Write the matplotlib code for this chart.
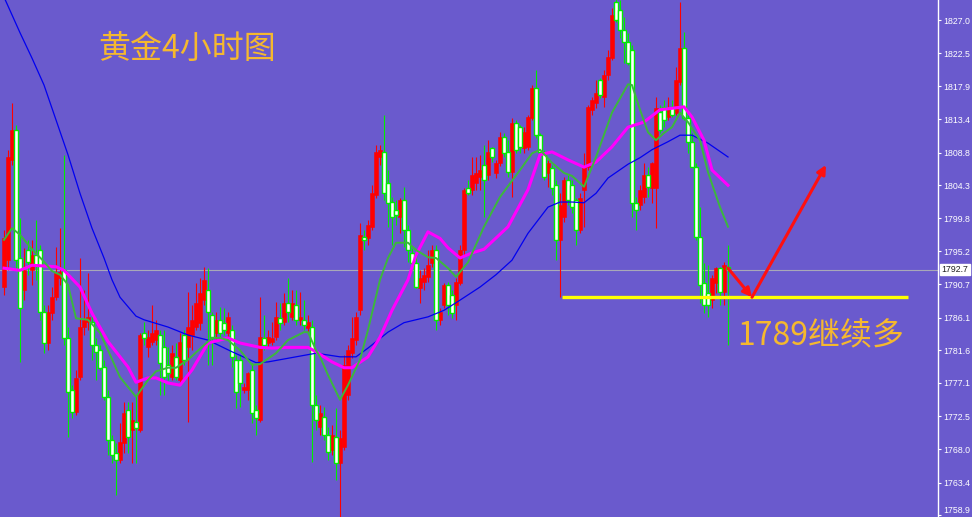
import numpy as np
import matplotlib
matplotlib.use('Agg')
import matplotlib.pyplot as plt

plt.rcParams['font.family'] = ['Noto Sans CJK SC', 'DejaVu Sans']

# 4小时K线 (开, 高, 低, 收), 从左到右
opens = [1790.3, 1794.0, 1807.8, 1811.9, 1794.3, 1789.9, 1795.4, 1792.6, 1794.7, 1795.4,
         1786.9, 1782.6, 1786.7, 1788.9, 1791.5, 1792.6, 1783.3, 1776.1, 1773.1, 1777.9,
         1784.8, 1785.5, 1785.5, 1782.3, 1781.6, 1779.3, 1775.2, 1769.3, 1767.5, 1766.5,
         1768.8, 1773.4, 1770.6, 1771.7, 1770.6, 1784.0, 1782.0, 1782.7, 1783.0, 1783.7,
         1782.0, 1779.6, 1777.9, 1780.7, 1777.5, 1783.7, 1782.0, 1783.7, 1784.8, 1785.4,
         1788.5, 1789.9, 1786.5, 1784.0, 1785.8, 1785.4, 1784.0, 1784.4, 1780.3, 1780.3,
         1776.1, 1776.1, 1778.9, 1773.4, 1772.0, 1783.3, 1782.6, 1782.7, 1783.4, 1786.0,
         1785.5, 1788.1, 1786.2, 1787.8, 1785.8, 1785.8, 1784.7, 1784.8, 1774.1, 1771.0,
         1772.4, 1769.9, 1767.9, 1769.7, 1766.1, 1768.3, 1775.4, 1781.2, 1783.0, 1787.1,
         1797.2, 1797.1, 1798.6, 1803.0, 1808.2, 1808.9, 1804.6, 1802.0, 1800.9, 1799.9,
         1802.3, 1798.2, 1795.0, 1793.6, 1790.2, 1791.0, 1791.7, 1793.6, 1795.4, 1785.8,
         1787.8, 1790.6, 1789.2, 1787.8, 1790.9, 1795.4, 1803.9, 1803.7, 1804.6, 1805.4,
         1807.1, 1805.7, 1809.4, 1806.0, 1807.4, 1811.0, 1808.9, 1806.1, 1812.9, 1812.3,
         1809.4, 1809.6, 1813.6, 1817.7, 1811.2, 1808.9, 1806.0, 1806.7, 1804.3, 1796.8,
         1799.9, 1805.0, 1804.3, 1802.3, 1798.2, 1803.7, 1806.8, 1814.7, 1815.6, 1818.8,
         1816.5, 1819.5, 1821.8, 1829.5, 1828.4, 1825.7, 1824.0, 1822.9, 1801.9, 1801.6,
         1802.7, 1805.7, 1803.9, 1803.9, 1814.4, 1815.1, 1813.7, 1815.1, 1814.3, 1818.5,
         1823.2, 1813.6, 1810.3, 1806.8, 1797.2, 1790.9, 1789.5, 1788.5, 1790.9, 1792.9,
         1789.6, 1793.1]
highs = [1798.2, 1809.2, 1815.6, 1812.6, 1799.8, 1795.7, 1796.8, 1796.8, 1799.5, 1796.1,
         1787.8, 1787.8, 1790.3, 1795.8, 1798.4, 1808.5, 1784.8, 1776.8, 1778.9, 1794.3,
         1789.9, 1792.2, 1786.5, 1783.3, 1782.3, 1780.3, 1776.1, 1769.9, 1768.8, 1771.6,
         1774.5, 1774.5, 1774.5, 1775.4, 1784.0, 1785.5, 1784.4, 1787.8, 1785.8, 1784.4,
         1784.4, 1782.0, 1782.3, 1782.6, 1784.0, 1784.4, 1789.6, 1787.8, 1790.9, 1791.5,
         1793.1, 1792.9, 1786.9, 1786.9, 1787.6, 1787.4, 1786.9, 1785.1, 1781.0, 1781.0,
         1777.1, 1778.6, 1779.9, 1774.1, 1788.9, 1786.5, 1784.4, 1785.5, 1788.2, 1788.1,
         1789.5, 1791.5, 1789.9, 1789.9, 1789.6, 1788.5, 1786.5, 1785.8, 1775.4, 1774.1,
         1773.8, 1771.0, 1771.3, 1773.7, 1770.6, 1781.0, 1782.3, 1786.2, 1786.9, 1799.1,
         1798.2, 1799.5, 1804.3, 1809.8, 1809.8, 1814.0, 1806.4, 1802.7, 1802.3, 1802.6,
         1804.1, 1798.8, 1795.7, 1795.4, 1792.6, 1792.9, 1795.4, 1796.1, 1796.1, 1787.4,
         1790.9, 1791.0, 1789.9, 1791.5, 1796.1, 1803.9, 1805.0, 1808.2, 1808.2, 1808.5,
         1809.8, 1810.5, 1809.6, 1807.8, 1811.6, 1811.5, 1810.5, 1813.6, 1813.3, 1812.6,
         1812.3, 1814.0, 1818.1, 1820.2, 1811.5, 1809.2, 1807.8, 1807.1, 1805.0, 1803.2,
         1805.4, 1805.7, 1805.0, 1802.6, 1803.2, 1808.7, 1815.4, 1816.5, 1818.8, 1819.1,
         1820.2, 1822.9, 1828.7, 1831.2, 1829.8, 1827.5, 1825.3, 1823.6, 1802.7, 1804.3,
         1807.4, 1806.8, 1807.5, 1816.5, 1815.4, 1816.0, 1816.5, 1816.0, 1820.6, 1829.5,
         1825.4, 1814.0, 1811.5, 1807.4, 1801.3, 1793.6, 1793.3, 1792.0, 1793.1, 1793.1,
         1793.7, 1796.1]
lows = [1789.2, 1792.6, 1807.1, 1792.6, 1780.0, 1788.5, 1792.0, 1790.6, 1791.3, 1785.8,
        1781.2, 1781.6, 1785.8, 1788.5, 1790.6, 1782.3, 1769.7, 1772.3, 1772.7, 1777.5,
        1783.7, 1784.4, 1780.3, 1777.5, 1778.9, 1774.8, 1767.2, 1766.1, 1761.7, 1766.1,
        1767.5, 1767.5, 1766.1, 1766.1, 1770.4, 1782.3, 1780.7, 1782.3, 1782.3, 1775.4,
        1775.4, 1777.5, 1777.5, 1777.5, 1777.1, 1779.6, 1771.7, 1781.6, 1784.4, 1784.4,
        1787.8, 1779.6, 1779.6, 1783.0, 1783.0, 1783.7, 1783.0, 1779.3, 1773.7, 1773.8,
        1775.7, 1774.8, 1771.6, 1769.9, 1771.7, 1781.6, 1781.9, 1782.3, 1783.0, 1784.4,
        1785.1, 1785.5, 1785.8, 1785.1, 1785.1, 1784.4, 1784.1, 1766.2, 1770.6, 1769.9,
        1769.3, 1766.5, 1767.2, 1763.8, 1758.0, 1767.9, 1774.8, 1780.5, 1782.3, 1786.5,
        1795.4, 1796.1, 1798.2, 1802.6, 1807.1, 1802.3, 1798.6, 1796.1, 1798.8, 1797.7,
        1795.8, 1793.7, 1792.6, 1790.2, 1788.1, 1789.9, 1791.0, 1793.1, 1784.4, 1785.1,
        1787.4, 1786.5, 1786.0, 1785.8, 1790.6, 1794.7, 1803.0, 1803.0, 1803.7, 1803.7,
        1799.9, 1805.0, 1807.5, 1805.3, 1807.0, 1808.2, 1805.4, 1802.7, 1808.7, 1808.7,
        1808.7, 1809.2, 1813.3, 1810.8, 1808.2, 1805.0, 1804.1, 1803.0, 1794.0, 1788.9,
        1799.3, 1801.6, 1800.5, 1796.1, 1797.7, 1798.6, 1806.4, 1814.0, 1814.9, 1816.3,
        1815.1, 1818.8, 1821.5, 1826.8, 1824.6, 1821.1, 1820.9, 1799.9, 1798.2, 1800.9,
        1801.9, 1802.7, 1801.9, 1798.4, 1811.5, 1812.3, 1813.3, 1813.7, 1814.0, 1818.1,
        1813.3, 1808.7, 1806.8, 1796.8, 1788.1, 1786.7, 1786.2, 1787.4, 1789.5, 1787.8,
        1787.8, 1782.3]
closes = [1797.1, 1808.2, 1811.9, 1794.0, 1787.4, 1792.6, 1793.7, 1794.7, 1793.3, 1786.9,
          1782.6, 1786.9, 1788.9, 1792.2, 1792.4, 1783.3, 1775.9, 1773.1, 1777.8, 1784.8,
          1785.8, 1786.2, 1782.3, 1781.4, 1779.2, 1775.2, 1769.3, 1767.2, 1766.5, 1769.0,
          1773.0, 1769.7, 1772.0, 1770.9, 1783.7, 1783.3, 1783.4, 1784.0, 1784.4, 1779.9,
          1777.9, 1778.5, 1781.2, 1777.9, 1782.7, 1780.3, 1784.8, 1785.8, 1788.1, 1789.5,
          1791.3, 1786.9, 1783.4, 1785.8, 1784.0, 1784.4, 1786.2, 1780.7, 1775.9, 1777.1,
          1776.6, 1778.5, 1773.0, 1772.3, 1783.4, 1782.3, 1783.4, 1783.3, 1786.2, 1785.4,
          1788.1, 1786.9, 1788.1, 1785.8, 1786.2, 1785.1, 1785.5, 1774.1, 1772.0, 1773.0,
          1769.9, 1767.6, 1769.9, 1766.1, 1769.5, 1779.6, 1781.6, 1783.3, 1786.2, 1797.5,
          1796.8, 1798.8, 1803.2, 1808.9, 1809.2, 1803.2, 1801.9, 1799.9, 1800.2, 1802.3,
          1798.2, 1795.4, 1793.6, 1790.3, 1791.5, 1792.0, 1793.3, 1795.4, 1785.8, 1786.9,
          1790.6, 1787.8, 1786.7, 1791.0, 1795.4, 1803.7, 1803.2, 1805.7, 1806.0, 1806.4,
          1805.0, 1808.9, 1808.2, 1807.4, 1811.0, 1808.7, 1806.1, 1812.9, 1809.2, 1809.6,
          1811.6, 1813.7, 1817.7, 1811.2, 1808.9, 1805.4, 1807.4, 1803.9, 1796.8, 1801.6,
          1805.0, 1802.3, 1801.3, 1798.2, 1802.6, 1806.8, 1815.1, 1816.0, 1817.0, 1816.7,
          1819.5, 1822.0, 1827.7, 1827.0, 1825.7, 1824.0, 1821.1, 1801.9, 1800.9, 1803.7,
          1805.7, 1804.1, 1807.4, 1814.9, 1811.9, 1813.3, 1814.9, 1814.0, 1818.8, 1823.2,
          1813.6, 1810.3, 1806.8, 1797.2, 1790.6, 1787.8, 1787.8, 1791.5, 1792.9, 1789.6,
          1793.3, 1792.8]

# 均线 (读图得到的点)
blue_idx = [0, 4, 7, 10, 13, 16, 19, 22, 25, 27, 29, 33, 35, 41, 46, 51, 57, 63, 66, 71,
            78, 84, 88, 91, 96, 100, 106, 110, 114, 119, 123, 127, 131, 136, 139, 142, 145,
            148, 151, 156, 159, 162, 166, 169, 172, 176, 181]
blue_val = [1830.2, 1825.3, 1821.8, 1818.1, 1813.3, 1808.5, 1803.2, 1798.4, 1794.3, 1791.3,
            1788.9, 1786.3, 1785.8, 1784.8, 1783.7, 1783.0, 1781.4, 1779.9, 1780.0, 1780.5,
            1781.2, 1780.7, 1780.7, 1781.9, 1784.1, 1785.4, 1786.2, 1787.1, 1788.5, 1790.3,
            1792.0, 1794.0, 1797.7, 1801.3, 1802.0, 1802.0, 1801.9, 1803.2, 1805.3, 1807.2,
            1808.1, 1809.2, 1810.3, 1811.2, 1811.2, 1810.1, 1808.2]
mag_idx = [0, 4, 7, 13, 15, 19, 22, 26, 31, 33, 36, 38, 41, 44, 47, 51, 56, 59, 64, 67,
           71, 76, 78, 82, 85, 87, 91, 94, 97, 101, 103, 106, 109, 111, 114, 117, 120, 126,
           131, 134, 137, 141, 145, 148, 152, 156, 160, 164, 167, 170, 172, 175, 177, 181]
mag_val = [1792.9, 1792.6, 1793.3, 1793.1, 1792.6, 1790.3, 1786.7, 1782.8, 1779.3, 1777.2,
           1777.8, 1777.8, 1777.1, 1776.8, 1778.9, 1782.6, 1783.3, 1782.6, 1782.0, 1781.9,
           1782.0, 1782.0, 1781.4, 1780.0, 1779.2, 1779.2, 1780.7, 1783.4, 1787.1, 1791.3,
           1794.7, 1797.9, 1797.0, 1795.7, 1794.3, 1795.0, 1795.5, 1798.6, 1803.7, 1808.5,
           1808.9, 1807.8, 1806.8, 1807.5, 1809.6, 1812.3, 1813.0, 1814.7, 1814.9, 1815.1,
           1813.7, 1810.5, 1806.4, 1804.3]
grn_idx = [0, 2, 4, 7, 10, 12, 14, 16, 18, 21, 24, 26, 29, 33, 36, 38, 41, 43, 46, 50,
           52, 54, 56, 59, 62, 64, 68, 71, 75, 76, 78, 79, 81, 84, 86, 89, 91, 94, 96, 98,
           101, 103, 106, 108, 111, 113, 116, 120, 124, 129, 132, 134, 137, 140, 142, 145,
           148, 152, 156, 157, 159, 161, 163, 165, 167, 169, 171, 174, 176, 179, 181]
grn_val = [1796.8, 1798.4, 1797.5, 1795.5, 1793.8, 1792.5, 1792.0, 1790.6, 1786.0, 1785.8,
           1784.0, 1781.6, 1777.9, 1775.2, 1777.5, 1778.7, 1779.2, 1779.2, 1780.3, 1782.3,
           1783.3, 1783.3, 1783.0, 1781.6, 1779.6, 1779.7, 1781.2, 1783.0, 1784.1, 1784.1,
           1781.6, 1780.7, 1778.2, 1774.8, 1776.8, 1780.3, 1784.4, 1791.3, 1794.3, 1796.4,
           1796.4, 1795.4, 1794.4, 1794.3, 1792.9, 1791.7, 1793.7, 1798.6, 1802.7, 1806.4,
           1808.7, 1809.2, 1807.4, 1806.0, 1805.6, 1804.1, 1808.2, 1814.3, 1818.2, 1818.1,
           1814.7, 1811.6, 1810.5, 1811.5, 1812.3, 1814.3, 1813.0, 1810.5, 1806.1, 1801.3,
           1798.6]

price_ticks = [1758.9, 1763.4, 1768.0, 1772.5, 1777.1, 1781.6, 1786.1, 1790.7,
               1795.2, 1799.8, 1804.3, 1808.8, 1813.4, 1817.9, 1822.5, 1827.0]
last_price = 1792.7
support = 1789.0
support_span = [139.5, 226]
arrow_pts = [(181, 1792.9), (187, 1788.9), (205.5, 1807.1)]

bg = '#6a5acd'
o = np.array(opens)
h = np.array(highs)
l = np.array(lows)
c = np.array(closes)
idx = np.arange(len(o))
up = c >= o

fig = plt.figure(figsize=(9.72, 5.17), dpi=100)
fig.patch.set_facecolor(bg)
ax = fig.add_axes([0, 0, 938 / 972, 1])
ax.set_facecolor(bg)

ax.axhline(last_price, color='#a8a8b8', lw=0.8, zorder=1)

# 影线
ax.vlines(idx[up], l[up], h[up], color='#ff0000', lw=0.8, zorder=2)
ax.vlines(idx[~up], l[~up], h[~up], color='#00ee00', lw=0.8, zorder=2)
# 实体: 阳线红色实心, 阴线绿框白心
ax.bar(idx[up], (c - o)[up], bottom=o[up], width=0.8, color='#ff0000',
       edgecolor='#ff0000', lw=0.4, zorder=3)
ax.bar(idx[~up], (o - c)[~up], bottom=c[~up], width=0.8, color='white',
       edgecolor='#00ee00', lw=1.0, zorder=3)

ax.plot(blue_idx, blue_val, color='#0000f0', lw=0.9, zorder=4)
ax.plot(mag_idx, mag_val, color='#ff00ff', lw=2.2, zorder=4)
ax.plot(grn_idx, grn_val, color='#3cb83c', lw=1.4, zorder=5)

ax.hlines(support, support_span[0], support_span[1], color='#ffff00', lw=2.4, zorder=6)

for a, b in zip(arrow_pts[:-1], arrow_pts[1:]):
    ax.annotate('', xy=b, xytext=a,
                arrowprops=dict(arrowstyle='-|>', color='#ff1010', lw=2.2,
                                mutation_scale=13, shrinkA=0, shrinkB=0), zorder=7)

ax.text(23.5, 1823.0, '黄金4小时图', color='#f5b82e', fontsize=23, ha='left', va='center')
ax.text(183.3, 1783.5, '1789继续多', color='#f5b82e', fontsize=23, ha='left', va='center')

ax.set_xlim(-1, 233.5)
ax.set_ylim(1758.66, 1829.8)
ax.set_xticks([])
ax.yaxis.tick_right()
ax.set_yticks(price_ticks)
ax.set_yticklabels(['%.1f' % v for v in price_ticks], family='Liberation Sans')
ax.tick_params(axis='y', colors='white', length=2.5, width=0.8, labelsize=6.3, pad=1.5)
# 最下面的刻度标签贴着底边, 放到刻度上方以免被裁掉
ax.get_yticklabels()[0].set_verticalalignment('bottom')
for s in ['top', 'bottom', 'left']:
    ax.spines[s].set_visible(False)
ax.spines['right'].set_color('white')
ax.spines['right'].set_linewidth(1)

ax.annotate('%.1f' % last_price, xy=(1.0, last_price), xycoords=('axes fraction', 'data'),
            xytext=(2.5, 0), textcoords='offset points', fontsize=6.3, family='Liberation Sans',
            color='#202020', va='center', ha='left', annotation_clip=False,
            bbox=dict(boxstyle='square,pad=0.15', fc='white', ec='white'))

fig.savefig('out.png', dpi=100, facecolor=bg)
